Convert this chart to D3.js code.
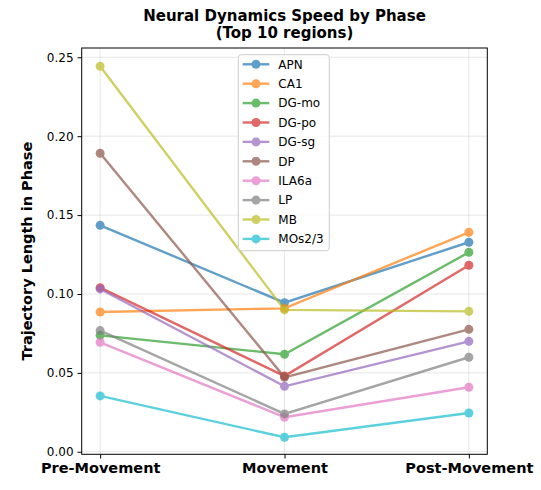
<!DOCTYPE html>
<meta charset="utf-8">
<style>
  body { margin: 0; background: #fff; }
  text { font-family: "DejaVu Sans", sans-serif; }
</style>
<body>
<svg width="541" height="490"></svg>
<script src="https://cdn.jsdelivr.net/npm/d3@7"></script>
<script>

    // phases along the x axis
    var phases = ["Pre-Movement", "Movement", "Post-Movement"];

    // regions and their trajectory length per phase
    var regions = ["APN", "CA1", "DG-mo", "DG-po", "DG-sg", "DP", "ILA6a", "LP", "MB", "MOs2/3"];
    var APN    = [0.1435, 0.0945, 0.1328];
    var CA1    = [0.0886, 0.0909, 0.1391];
    var DG_mo  = [0.0738, 0.0618, 0.1264];
    var DG_po  = [0.1040, 0.0480, 0.1182];
    var DG_sg  = [0.1032, 0.0415, 0.0700];
    var DP     = [0.1892, 0.0472, 0.0776];
    var ILA6a  = [0.0694, 0.0219, 0.0409];
    var LP     = [0.0768, 0.0240, 0.0599];
    var MB     = [0.2443, 0.0899, 0.0890];
    var MOs2_3 = [0.0354, 0.0092, 0.0246];
    var values = [APN, CA1, DG_mo, DG_po, DG_sg, DP, ILA6a, LP, MB, MOs2_3];

    var yTicks = [0, 0.05, 0.10, 0.15, 0.20, 0.25];

    var colors = ["#1f77b4", "#ff7f0e", "#2ca02c", "#d62728", "#9467bd",
                  "#8c564b", "#e377c2", "#7f7f7f", "#bcbd22", "#17becf"];

    var svg = d3.select("svg");

    var margin = {top: 48, right: 53.7, bottom: 35.7, left: 81.7},
        width = +svg.attr("width") - margin.left - margin.right,
        height = +svg.attr("height") - margin.top - margin.bottom;

    var x = d3.scaleLinear()
        .domain([-0.1, phases.length - 1 + 0.1])
        .range([0, width]);
    var y = d3.scaleLinear()
        .domain([-0.0016, 0.2559])
        .range([height, 0]);

    var g = svg.append("g")
        .attr("transform", "translate(" + margin.left + "," + margin.top + ")");

    // grid
    g.append("g").selectAll("line")
        .data(yTicks)
        .enter().append("line")
        .attr("x1", 0).attr("x2", width)
        .attr("y1", function (d) { return y(d); })
        .attr("y2", function (d) { return y(d); })
        .attr("stroke", "#b0b0b0").attr("stroke-opacity", 0.3).attr("stroke-width", 1);
    g.append("g").selectAll("line")
        .data(d3.range(phases.length))
        .enter().append("line")
        .attr("y1", 0).attr("y2", height)
        .attr("x1", function (d) { return x(d); })
        .attr("x2", function (d) { return x(d); })
        .attr("stroke", "#b0b0b0").attr("stroke-opacity", 0.3).attr("stroke-width", 1);

    // series
    var line = d3.line()
        .x(function (d, i) { return x(i); })
        .y(function (d) { return y(d); });

    values.forEach(function (vals, k) {
        var s = g.append("g").attr("opacity", 0.7);
        s.append("path")
            .attr("d", line(vals))
            .attr("fill", "none")
            .attr("stroke", colors[k])
            .attr("stroke-width", 2.4);
        s.selectAll("circle")
            .data(vals)
            .enter().append("circle")
            .attr("cx", function (d, i) { return x(i); })
            .attr("cy", function (d) { return y(d); })
            .attr("r", 4.5)
            .attr("fill", colors[k]);
    });

    // frame
    g.append("rect")
        .attr("width", width).attr("height", height)
        .attr("fill", "none").attr("stroke", "#000").attr("stroke-width", 1);

    // axes
    var xAxis = g.append("g")
        .attr("transform", "translate(0," + height + ")")
        .call(d3.axisBottom(x)
            .tickValues(d3.range(phases.length))
            .tickFormat(function (i) { return phases[i]; })
            .tickSize(4.2).tickPadding(4));
    xAxis.select(".domain").remove();
    xAxis.selectAll("text")
        .attr("font-size", "14.5px").attr("font-weight", "bold")
        .attr("fill", "#000").attr("font-family", "DejaVu Sans");

    var yAxis = g.append("g")
        .call(d3.axisLeft(y)
            .tickValues(yTicks)
            .tickFormat(d3.format(".2f"))
            .tickSize(4.2).tickPadding(4));
    yAxis.select(".domain").remove();
    yAxis.selectAll("text")
        .attr("font-size", "12px").attr("fill", "#000").attr("font-family", "DejaVu Sans");

    // titles
    svg.append("text")
        .attr("x", margin.left + width / 2).attr("y", 20.5)
        .attr("text-anchor", "middle")
        .attr("font-size", "15px").attr("font-weight", "bold")
        .text("Neural Dynamics Speed by Phase");
    svg.append("text")
        .attr("x", margin.left + width / 2).attr("y", 38.2)
        .attr("text-anchor", "middle")
        .attr("font-size", "15px").attr("font-weight", "bold")
        .text("(Top 10 regions)");

    svg.append("text")
        .attr("transform", "translate(32," + (margin.top + height / 2) + ") rotate(-90)")
        .attr("text-anchor", "middle")
        .attr("font-size", "14.5px").attr("font-weight", "bold")
        .text("Trajectory Length in Phase");

    // legend
    var lg = svg.append("g").attr("transform", "translate(238.3,54.7)");
    lg.append("rect")
        .attr("width", 91).attr("height", 196)
        .attr("rx", 3)
        .attr("fill", "#fff").attr("fill-opacity", 0.8)
        .attr("stroke", "#cccccc").attr("stroke-width", 1);
    regions.forEach(function (name, k) {
        var row = lg.append("g").attr("transform", "translate(0," + (9.6 + k * 19.4) + ")");
        var h = row.append("g").attr("opacity", 0.7);
        h.append("line")
            .attr("x1", 4.4).attr("x2", 31)
            .attr("stroke", colors[k]).attr("stroke-width", 2.4);
        h.append("circle")
            .attr("cx", 17.7).attr("r", 4.5).attr("fill", colors[k]);
        row.append("text")
            .attr("x", 40).attr("dy", "0.35em")
            .attr("font-size", "12px")
            .text(name);
    });

</script>
</body>
